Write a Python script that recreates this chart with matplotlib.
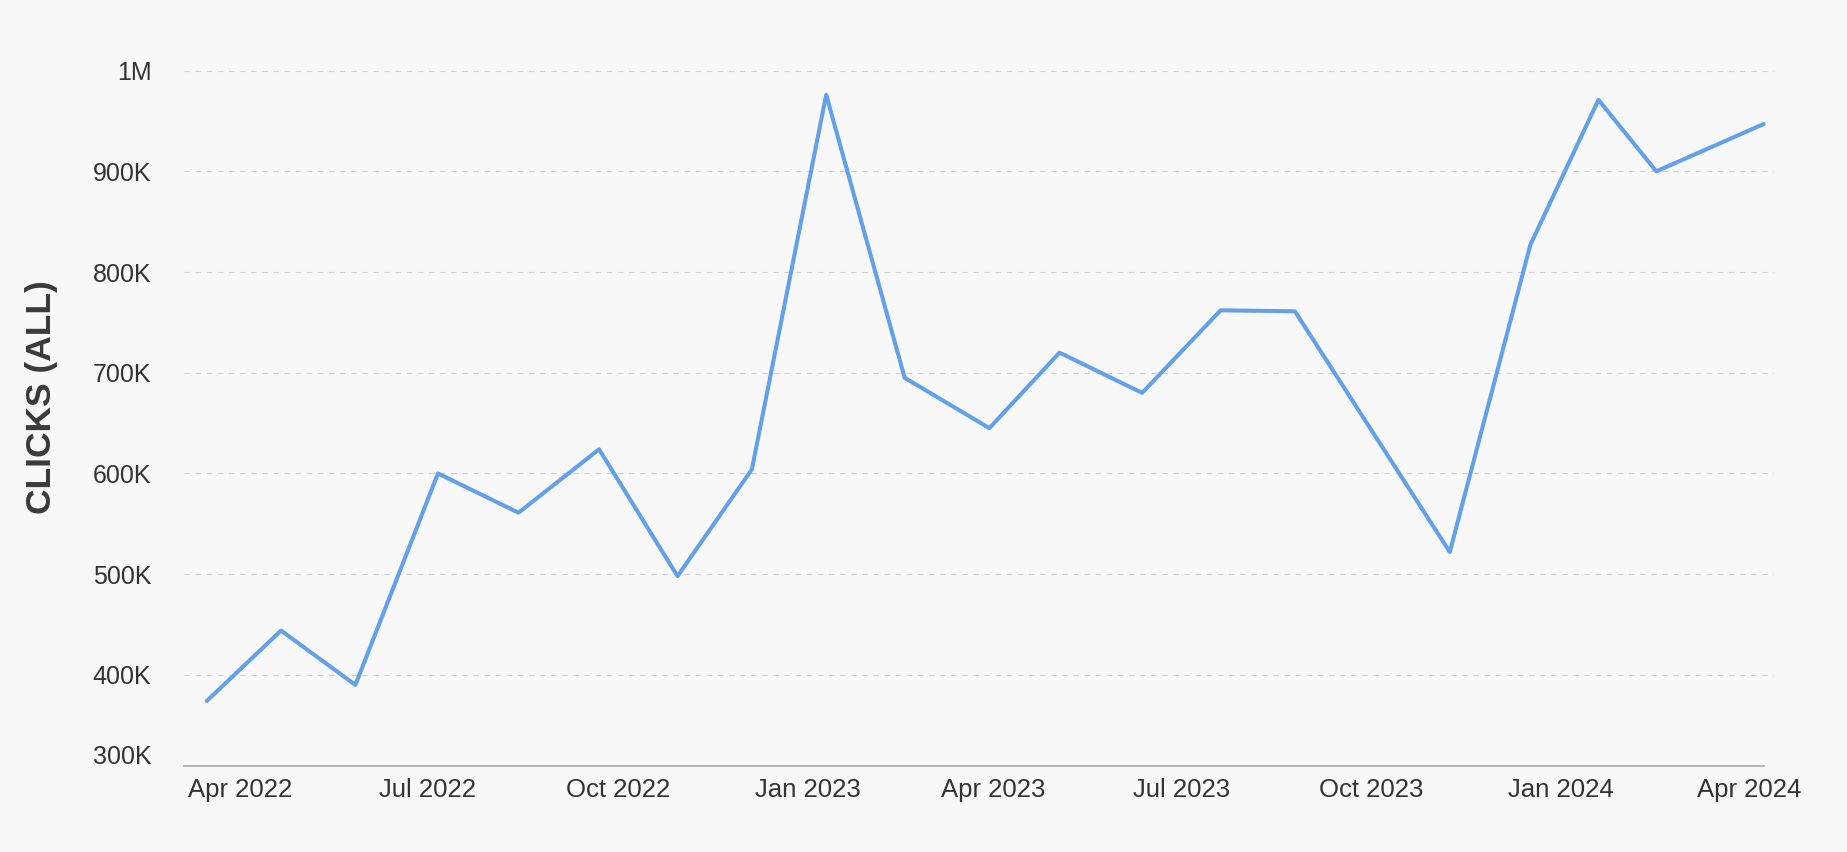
import pandas as pd
import matplotlib
matplotlib.use("Agg")
from matplotlib import pyplot as plt
import matplotlib.dates as mdates
from matplotlib.ticker import FixedLocator, FuncFormatter

plt.rcParams["font.family"] = ["Liberation Sans", "DejaVu Sans"]

dates = ["2022-03-16", "2022-04-21", "2022-05-27", "2022-07-06", "2022-08-14",
         "2022-09-22", "2022-10-30", "2022-12-05", "2023-01-10", "2023-02-17",
         "2023-03-30", "2023-05-03", "2023-06-12", "2023-07-20", "2023-08-25",
         "2023-11-08", "2023-12-17", "2024-01-19", "2024-02-16", "2024-04-08"]
clicks = [374000, 444000, 390000, 600000, 561000, 624000, 498000, 604000, 976000, 695000,
          645000, 720000, 680000, 762000, 761000, 522000, 827000, 971000, 900000, 947000]
y_ticks = [400000, 500000, 600000, 700000, 800000, 900000, 1000000]
y_bottom_label = "300K"

df = pd.DataFrame({"date": pd.to_datetime(dates), "clicks": clicks})

bg = "#f8f8f8"
text_col = "#333333"

fig = plt.figure(figsize=(18.47, 8.52), dpi=100, facecolor=bg)
ax = fig.add_axes([184 / 1847, 1 - 766 / 852, 1590 / 1847, 700.4 / 852])
ax.set_facecolor(bg)

ax.plot(df.date, df.clicks, color="#62a0ea", lw=2.9, solid_joinstyle="round",
        solid_capstyle="round", zorder=3)

ax.set_xlim(pd.Timestamp("2022-03-05"), pd.Timestamp("2024-04-13"))
ax.set_ylim(309500, 1005000)

ax.xaxis.set_major_locator(mdates.MonthLocator(bymonth=[1, 4, 7, 10]))
ax.xaxis.set_major_formatter(mdates.DateFormatter("%b %Y"))

def fmt(v, pos):
    if v >= 1000000:
        return "%gM" % (v / 1000000)
    return "%dK" % (v / 1000)

ax.yaxis.set_major_locator(FixedLocator(y_ticks))
ax.yaxis.set_major_formatter(FuncFormatter(fmt))
ax.grid(axis="y", color="#d0d0d0", lw=0.8, dashes=(5, 5), zorder=0)

ax.tick_params(axis="y", length=0, pad=23.5, labelsize=18, labelcolor=text_col)
ax.tick_params(axis="x", length=0, pad=8.5, labelsize=18.5, labelcolor=text_col)

for s in ["top", "right", "left"]:
    ax.spines[s].set_visible(False)
ax.spines["bottom"].set_color("#a8a8a8")
ax.spines["bottom"].set_linewidth(1.2)
ax.spines["bottom"].set_bounds(ax.get_xlim()[0], mdates.date2num(df.date.iloc[-1]))

# bottom tick label sits just above the axis line
ax.annotate(y_bottom_label, xy=(0, 309500), xycoords=("axes fraction", "data"),
            xytext=(-23.5, 6.5), textcoords="offset points",
            ha="right", va="center", fontsize=18, color=text_col)

fig.text(42 / 1847, 1 - 397 / 852, "CLICKS (ALL)", rotation=90, ha="center", va="center",
         fontsize=25.5, fontweight="bold", color="#3a3a3a")

fig.savefig("out.png", dpi=100, facecolor=bg)
